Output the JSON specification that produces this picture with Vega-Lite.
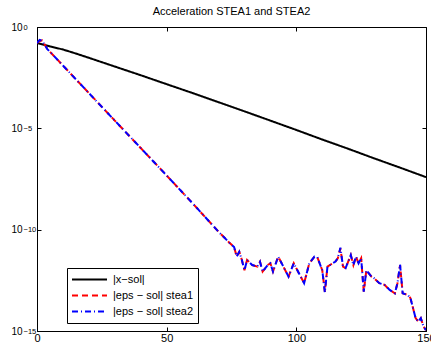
{
  "$schema": "https://vega.github.io/schema/vega-lite/v6.json",
  "width": 389,
  "height": 304,
  "autosize": "none",
  "padding": {"left": 37, "top": 27, "right": 5, "bottom": 18},
  "title": {"text": "Acceleration STEA1 and STEA2", "fontSize": 11, "fontWeight": "normal", "font": "Liberation Sans", "offset": 5, "color": "black"},
  "config": {
    "font": "Liberation Sans",
    "view": {"stroke": "black", "strokeWidth": 1},
    "axis": {"grid": false, "domainColor": "black", "tickColor": "black", "labelColor": "black", "labelFontSize": 11, "tickSize": -4, "labelPadding": 5, "title": null, "labelFlush": false}
  },
  "datasets": {
    "d": [
    {"s": "|x−sol|", "x": 0, "y": 0.162},
    {"s": "|x−sol|", "x": 5, "y": 0.110},
    {"s": "|x−sol|", "x": 10, "y": 0.0776},
    {"s": "|x−sol|", "x": 15, "y": 0.049},
    {"s": "|x−sol|", "x": 20, "y": 0.0302},
    {"s": "|x−sol|", "x": 30, "y": 0.0112},
    {"s": "|x−sol|", "x": 40, "y": 0.00417},
    {"s": "|x−sol|", "x": 50, "y": 0.00151},
    {"s": "|x−sol|", "x": 60, "y": 5.5e-4},
    {"s": "|x−sol|", "x": 70, "y": 1.95e-4},
    {"s": "|x−sol|", "x": 80, "y": 6.9e-5},
    {"s": "|x−sol|", "x": 90, "y": 2.4e-5},
    {"s": "|x−sol|", "x": 100, "y": 8.3e-6},
    {"s": "|x−sol|", "x": 110, "y": 2.8e-6},
    {"s": "|x−sol|", "x": 120, "y": 9.8e-7},
    {"s": "|x−sol|", "x": 130, "y": 3.3e-7},
    {"s": "|x−sol|", "x": 140, "y": 1.15e-7},
    {"s": "|x−sol|", "x": 150, "y": 3.9e-8},

    {"s": "|eps − sol| stea1", "x": 0, "y": 0.162},
    {"s": "|eps − sol| stea1", "x": 1, "y": 0.2},
    {"s": "|eps − sol| stea1", "x": 2, "y": 0.22},
    {"s": "|eps − sol| stea1", "x": 3, "y": 0.132},
    {"s": "|eps − sol| stea1", "x": 4, "y": 0.081},
    {"s": "|eps − sol| stea1", "x": 10, "y": 0.0126},
    {"s": "|eps − sol| stea1", "x": 20, "y": 5.5e-4},
    {"s": "|eps − sol| stea1", "x": 30, "y": 2.4e-5},
    {"s": "|eps − sol| stea1", "x": 40, "y": 1.07e-6},
    {"s": "|eps − sol| stea1", "x": 50, "y": 4.7e-8},
    {"s": "|eps − sol| stea1", "x": 60, "y": 2.0e-9},
    {"s": "|eps − sol| stea1", "x": 70, "y": 7.9e-11},
    {"s": "|eps − sol| stea1", "x": 74, "y": 2.4e-11},
    {"s": "|eps − sol| stea1", "x": 76, "y": 1.4e-11},
    {"s": "|eps − sol| stea1", "x": 77, "y": 4.7e-12},
    {"s": "|eps − sol| stea1", "x": 78, "y": 8.1e-12},
    {"s": "|eps − sol| stea1", "x": 79, "y": 3.2e-12},
    {"s": "|eps − sol| stea1", "x": 80, "y": 1.0e-12},
    {"s": "|eps − sol| stea1", "x": 81, "y": 3.2e-12},
    {"s": "|eps − sol| stea1", "x": 83, "y": 1.8e-12},
    {"s": "|eps − sol| stea1", "x": 85, "y": 1.5e-12},
    {"s": "|eps − sol| stea1", "x": 86, "y": 2.6e-12},
    {"s": "|eps − sol| stea1", "x": 87, "y": 8.5e-13},
    {"s": "|eps − sol| stea1", "x": 89, "y": 1.8e-12},
    {"s": "|eps − sol| stea1", "x": 90, "y": 2.2e-12},
    {"s": "|eps − sol| stea1", "x": 91, "y": 8.5e-13},
    {"s": "|eps − sol| stea1", "x": 93, "y": 4.7e-12},
    {"s": "|eps − sol| stea1", "x": 95, "y": 1.5e-12},
    {"s": "|eps − sol| stea1", "x": 97, "y": 4.8e-13},
    {"s": "|eps − sol| stea1", "x": 99, "y": 2.2e-12},
    {"s": "|eps − sol| stea1", "x": 101, "y": 7.1e-13},
    {"s": "|eps − sol| stea1", "x": 103, "y": 2.3e-13},
    {"s": "|eps − sol| stea1", "x": 105, "y": 2.2e-12},
    {"s": "|eps − sol| stea1", "x": 107, "y": 4.7e-12},
    {"s": "|eps − sol| stea1", "x": 108, "y": 4.7e-12},
    {"s": "|eps − sol| stea1", "x": 110, "y": 1.0e-12},
    {"s": "|eps − sol| stea1", "x": 111, "y": 8.5e-14},
    {"s": "|eps − sol| stea1", "x": 112, "y": 1.5e-12},
    {"s": "|eps − sol| stea1", "x": 114, "y": 2.2e-12},
    {"s": "|eps − sol| stea1", "x": 115, "y": 2.6e-12},
    {"s": "|eps − sol| stea1", "x": 116, "y": 3.9e-12},
    {"s": "|eps − sol| stea1", "x": 117, "y": 1.2e-11},
    {"s": "|eps − sol| stea1", "x": 118, "y": 1.5e-12},
    {"s": "|eps − sol| stea1", "x": 119, "y": 1.26e-12},
    {"s": "|eps − sol| stea1", "x": 121, "y": 5.6e-12},
    {"s": "|eps − sol| stea1", "x": 122, "y": 1.8e-12},
    {"s": "|eps − sol| stea1", "x": 123, "y": 4.7e-12},
    {"s": "|eps − sol| stea1", "x": 124, "y": 2.2e-12},
    {"s": "|eps − sol| stea1", "x": 125, "y": 3.9e-12},
    {"s": "|eps − sol| stea1", "x": 126, "y": 8.7e-14},
    {"s": "|eps − sol| stea1", "x": 127, "y": 1.0e-12},
    {"s": "|eps − sol| stea1", "x": 129, "y": 4.8e-13},
    {"s": "|eps − sol| stea1", "x": 130, "y": 4.0e-13},
    {"s": "|eps − sol| stea1", "x": 132, "y": 2.3e-13},
    {"s": "|eps − sol| stea1", "x": 134, "y": 1.9e-13},
    {"s": "|eps − sol| stea1", "x": 136, "y": 1.07e-13},
    {"s": "|eps − sol| stea1", "x": 138, "y": 7.2e-14},
    {"s": "|eps − sol| stea1", "x": 139, "y": 2.3e-13},
    {"s": "|eps − sol| stea1", "x": 140, "y": 1.8e-12},
    {"s": "|eps − sol| stea1", "x": 141, "y": 7.2e-14},
    {"s": "|eps − sol| stea1", "x": 143, "y": 6.0e-14},
    {"s": "|eps − sol| stea1", "x": 144, "y": 4.2e-14},
    {"s": "|eps − sol| stea1", "x": 146, "y": 4.3e-15},
    {"s": "|eps − sol| stea1", "x": 147, "y": 2.9e-15},
    {"s": "|eps − sol| stea1", "x": 148, "y": 4.3e-15},
    {"s": "|eps − sol| stea1", "x": 149, "y": 1.7e-15},
    {"s": "|eps − sol| stea1", "x": 150, "y": 1.1e-15},

    {"s": "|eps − sol| stea2", "x": 0, "y": 0.162},
    {"s": "|eps − sol| stea2", "x": 1, "y": 0.23},
    {"s": "|eps − sol| stea2", "x": 2, "y": 0.21},
    {"s": "|eps − sol| stea2", "x": 3, "y": 0.13},
    {"s": "|eps − sol| stea2", "x": 4, "y": 0.081},
    {"s": "|eps − sol| stea2", "x": 10, "y": 0.0126},
    {"s": "|eps − sol| stea2", "x": 20, "y": 5.5e-4},
    {"s": "|eps − sol| stea2", "x": 30, "y": 2.4e-5},
    {"s": "|eps − sol| stea2", "x": 40, "y": 1.07e-6},
    {"s": "|eps − sol| stea2", "x": 50, "y": 4.7e-8},
    {"s": "|eps − sol| stea2", "x": 60, "y": 2.0e-9},
    {"s": "|eps − sol| stea2", "x": 70, "y": 7.9e-11},
    {"s": "|eps − sol| stea2", "x": 74, "y": 2.4e-11},
    {"s": "|eps − sol| stea2", "x": 76, "y": 1.4e-11},
    {"s": "|eps − sol| stea2", "x": 77, "y": 4.7e-12},
    {"s": "|eps − sol| stea2", "x": 78, "y": 8.1e-12},
    {"s": "|eps − sol| stea2", "x": 79, "y": 3.2e-12},
    {"s": "|eps − sol| stea2", "x": 80, "y": 1.0e-12},
    {"s": "|eps − sol| stea2", "x": 81, "y": 3.2e-12},
    {"s": "|eps − sol| stea2", "x": 83, "y": 1.8e-12},
    {"s": "|eps − sol| stea2", "x": 85, "y": 1.5e-12},
    {"s": "|eps − sol| stea2", "x": 86, "y": 2.6e-12},
    {"s": "|eps − sol| stea2", "x": 87, "y": 8.5e-13},
    {"s": "|eps − sol| stea2", "x": 89, "y": 1.8e-12},
    {"s": "|eps − sol| stea2", "x": 90, "y": 2.2e-12},
    {"s": "|eps − sol| stea2", "x": 91, "y": 8.5e-13},
    {"s": "|eps − sol| stea2", "x": 93, "y": 4.7e-12},
    {"s": "|eps − sol| stea2", "x": 95, "y": 1.5e-12},
    {"s": "|eps − sol| stea2", "x": 97, "y": 4.8e-13},
    {"s": "|eps − sol| stea2", "x": 99, "y": 2.2e-12},
    {"s": "|eps − sol| stea2", "x": 101, "y": 7.1e-13},
    {"s": "|eps − sol| stea2", "x": 103, "y": 2.3e-13},
    {"s": "|eps − sol| stea2", "x": 105, "y": 2.2e-12},
    {"s": "|eps − sol| stea2", "x": 107, "y": 4.7e-12},
    {"s": "|eps − sol| stea2", "x": 108, "y": 4.7e-12},
    {"s": "|eps − sol| stea2", "x": 110, "y": 1.0e-12},
    {"s": "|eps − sol| stea2", "x": 111, "y": 8.0e-14},
    {"s": "|eps − sol| stea2", "x": 112, "y": 1.5e-12},
    {"s": "|eps − sol| stea2", "x": 114, "y": 2.2e-12},
    {"s": "|eps − sol| stea2", "x": 115, "y": 2.6e-12},
    {"s": "|eps − sol| stea2", "x": 116, "y": 3.9e-12},
    {"s": "|eps − sol| stea2", "x": 117, "y": 1.3e-11},
    {"s": "|eps − sol| stea2", "x": 118, "y": 1.5e-12},
    {"s": "|eps − sol| stea2", "x": 119, "y": 1.26e-12},
    {"s": "|eps − sol| stea2", "x": 121, "y": 5.6e-12},
    {"s": "|eps − sol| stea2", "x": 122, "y": 1.8e-12},
    {"s": "|eps − sol| stea2", "x": 123, "y": 4.7e-12},
    {"s": "|eps − sol| stea2", "x": 124, "y": 2.2e-12},
    {"s": "|eps − sol| stea2", "x": 125, "y": 3.9e-12},
    {"s": "|eps − sol| stea2", "x": 126, "y": 8.7e-14},
    {"s": "|eps − sol| stea2", "x": 127, "y": 1.0e-12},
    {"s": "|eps − sol| stea2", "x": 129, "y": 4.8e-13},
    {"s": "|eps − sol| stea2", "x": 130, "y": 4.0e-13},
    {"s": "|eps − sol| stea2", "x": 132, "y": 2.3e-13},
    {"s": "|eps − sol| stea2", "x": 134, "y": 1.9e-13},
    {"s": "|eps − sol| stea2", "x": 136, "y": 1.07e-13},
    {"s": "|eps − sol| stea2", "x": 138, "y": 7.2e-14},
    {"s": "|eps − sol| stea2", "x": 139, "y": 2.3e-13},
    {"s": "|eps − sol| stea2", "x": 140, "y": 1.9e-12},
    {"s": "|eps − sol| stea2", "x": 141, "y": 7.2e-14},
    {"s": "|eps − sol| stea2", "x": 143, "y": 6.0e-14},
    {"s": "|eps − sol| stea2", "x": 144, "y": 4.2e-14},
    {"s": "|eps − sol| stea2", "x": 146, "y": 4.3e-15},
    {"s": "|eps − sol| stea2", "x": 147, "y": 2.9e-15},
    {"s": "|eps − sol| stea2", "x": 148, "y": 4.3e-15},
    {"s": "|eps − sol| stea2", "x": 149, "y": 1.7e-15},
    {"s": "|eps − sol| stea2", "x": 150, "y": 1.1e-15}
    ]
  },
  "data": {"name": "d"},
  "layer": [
    {
      "mark": {"type": "line", "strokeWidth": 2, "clip": true},
      "encoding": {
        "x": {"field": "x", "type": "quantitative", "scale": {"domain": [0, 150], "nice": false, "zero": false},
              "axis": {"values": [0, 50, 100, 150], "orient": "bottom"}},
        "y": {"field": "y", "type": "quantitative", "scale": {"type": "log", "domain": [1e-15, 1], "nice": false},
              "axis": {"values": [1, 1e-5, 1e-10, 1e-15], "orient": "left", "labelAlign": "left", "labelPadding": 30, "labelFontSize": 10,
                       "labelExpr": "'10'"}},
        "color": {"field": "s", "type": "nominal",
                  "scale": {"domain": ["|x−sol|", "|eps − sol| stea1", "|eps − sol| stea2"], "range": ["#000000", "#ff0000", "#0000ff"]},
                  "legend": {"title": null, "orient": "none", "legendX": 30, "legendY": 241, "fillColor": "white", "strokeColor": "black",
                             "padding": 4, "symbolType": "stroke", "symbolSize": 1225, "symbolStrokeWidth": 2, "clipHeight": 15, "rowPadding": 1,
                             "labelFontSize": 11, "labelColor": "black", "labelOffset": 5}},
        "strokeDash": {"field": "s", "type": "nominal",
                       "scale": {"domain": ["|x−sol|", "|eps − sol| stea1", "|eps − sol| stea2"], "range": [[1, 0], [6, 4], [6, 3, 1, 3]]},
                       "legend": {"title": null}}
      }
    },
    {
      "mark": {"type": "line", "opacity": 0},
      "encoding": {
        "x": {"field": "x", "type": "quantitative", "scale": {"domain": [0, 150], "nice": false, "zero": false},
              "axis": {"values": [0, 50, 100, 150], "orient": "top", "labels": false, "domain": false}},
        "y": {"field": "y", "type": "quantitative", "scale": {"type": "log", "domain": [1e-15, 1], "nice": false},
              "axis": {"values": [1, 1e-5, 1e-10, 1e-15], "orient": "right", "labels": false, "domain": false}}
      }
    },
    {
      "mark": {"type": "line", "opacity": 0},
      "encoding": {
        "x": {"field": "x", "type": "quantitative", "scale": {"domain": [0, 150], "nice": false, "zero": false}, "axis": null},
        "y": {"field": "y", "type": "quantitative", "scale": {"type": "log", "domain": [1e-15, 1], "nice": false},
              "axis": {"values": [1, 1e-5, 1e-10, 1e-15], "orient": "left", "ticks": false, "domain": false, "labelAlign": "left",
                       "labelPadding": 14, "labelFontSize": 7.5, "labelDy": -5,
                       "labelExpr": "datum.value >= 0.5 ? '0' : datum.value > 1e-7 ? '−5' : datum.value > 1e-12 ? '−10' : '−15'"}}
      }
    }
  ],
  "resolve": {"scale": {"x": "independent", "y": "independent"}, "axis": {"x": "independent", "y": "independent"}}
}
